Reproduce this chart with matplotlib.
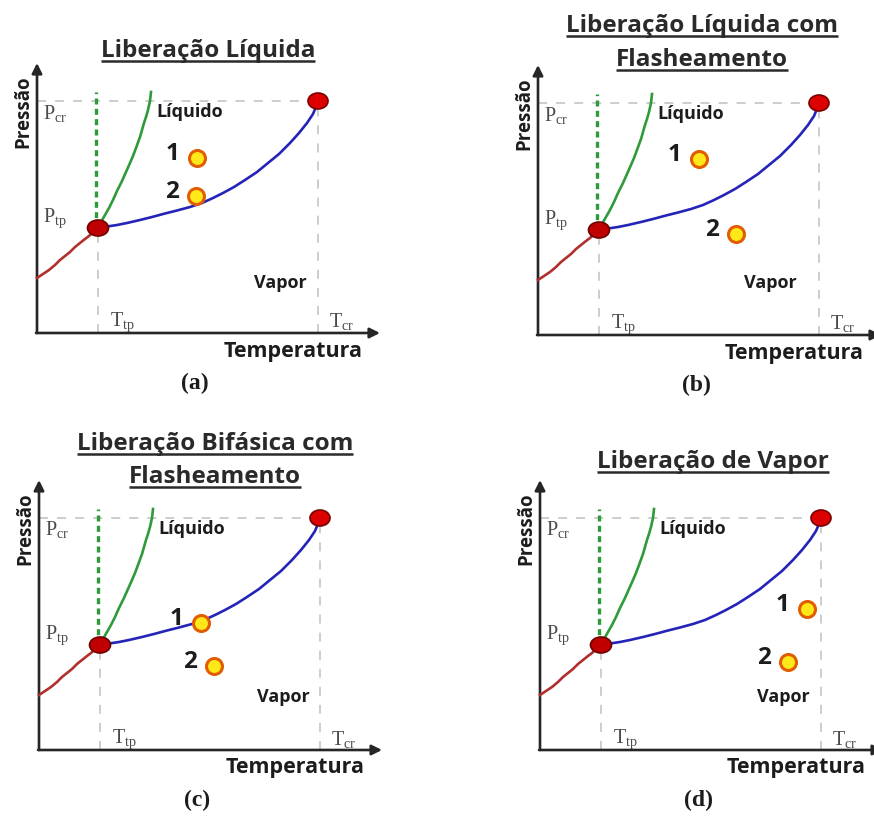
import matplotlib
matplotlib.use('Agg')
import matplotlib.pyplot as plt
from matplotlib.patches import Ellipse

W, H, DPI = 874, 816, 100
plt.rcParams['mathtext.fontset'] = 'custom'
plt.rcParams['mathtext.rm'] = 'Liberation Serif'
plt.rcParams['mathtext.it'] = 'Liberation Serif'

# ---- schematic phase diagram (arbitrary units) ----
blue_T = [63, 70, 80, 90, 103, 115, 128, 140, 153, 165, 176, 186, 197, 208, 220, 231, 242, 253, 262, 270, 276, 281]
blue_P = [106, 106.5, 108, 110, 113, 116, 119.5, 122.5, 126, 130, 135, 140, 146, 153, 161, 170, 179, 190, 200, 210, 219, 231]
green_T = [60, 64, 68, 72, 76, 80, 85, 89, 93, 96, 99, 103, 105, 107, 109, 111, 113, 114]
green_P = [105, 111, 118, 125, 133, 142, 152, 161, 170, 177, 185, 196, 203, 210, 216, 223, 232, 241]
red_T = [0, 6, 12, 18, 23, 28, 33, 38, 43, 48, 52, 56, 60]
red_P = [55, 59, 63, 68, 73, 77, 81, 86, 90, 94, 97, 101, 105]
melt_dash_T = [59, 59]
melt_dash_P = [105, 241]
triple_T, triple_P = 61, 105
crit_T, crit_P = 281, 232
T_max, P_max = 343, 270

panel_tags = ['(a)', '(b)', '(c)', '(d)']
panel_titles = [['Liberação Líquida'],
                ['Liberação Líquida com', 'Flasheamento'],
                ['Liberação Bifásica com', 'Flasheamento'],
                ['Liberação de Vapor']]
point1_T = [160, 161, 162, 267]
point1_P = [175, 176, 127, 141]
point2_T = [159, 198, 175, 248]
point2_P = [137, 101, 84, 88]
vapor_T = [243, 232, 244, 243]
vapor_P = [50, 52, 53, 53]

# layout (pixel origins of each panel, title placement)
origins = [(37, 333), (538, 335), (39, 750), (540, 750)]
title_x = [171, 164, 176, 173]
title_base = [[276], [303, 269], [300, 267], [282]]

XMIN, XMAX, YMIN, YMAX = -40, 400, -72, 328

fig = plt.figure(figsize=(W / DPI, H / DPI), dpi=DPI)
fig.patch.set_facecolor('white')

BOLD = dict(family=['Open Sans', 'DejaVu Sans'], fontweight='bold')
SERIF = dict(family=['Liberation Serif', 'DejaVu Serif'])
axis_col = '#262626'
grid_col = '#c9c9c9'
txt_col = '#1c1c1c'

title_texts = []
for i in range(4):
    ox, oy = origins[i]
    left = (ox + XMIN) / W
    bottom = 1 - (oy - YMIN) / H
    ax = fig.add_axes([left, bottom, (XMAX - XMIN) / W, (YMAX - YMIN) / H])
    ax.set_xlim(XMIN, XMAX)
    ax.set_ylim(YMIN, YMAX)
    ax.axis('off')

    # reference dashed guides
    ax.plot([0, crit_T], [crit_P, crit_P], color=grid_col, lw=1.3, ls=(0, (5, 5)), zorder=1)
    ax.plot([crit_T, crit_T], [0, crit_P], color=grid_col, lw=1.3, ls=(0, (5, 5)), zorder=1)
    ax.plot([triple_T, triple_T], [0, triple_P], color=grid_col, lw=1.3, ls=(0, (5, 5)), zorder=1)

    # axes with arrows
    ax.annotate('', xy=(0, P_max), xytext=(0, 0),
                arrowprops=dict(arrowstyle='-|>', color=axis_col, lw=1.9,
                                mutation_scale=15, shrinkA=0, shrinkB=0))
    ax.annotate('', xy=(T_max, 0), xytext=(-1, 0),
                arrowprops=dict(arrowstyle='-|>', color=axis_col, lw=1.9,
                                mutation_scale=15, shrinkA=0, shrinkB=0))

    # phase boundaries
    ax.plot(red_T, red_P, color='#b0302e', lw=1.9, zorder=3)
    ax.plot(green_T, green_P, color='#2f9a3a', lw=1.9, zorder=3)
    ax.plot(melt_dash_T, melt_dash_P, color='#2f9a3a', lw=2.4, ls=(0, (1.8, 1.3)), zorder=3)
    ax.plot(blue_T, blue_P, color='#2424b8', lw=1.9, zorder=3)

    ax.add_patch(Ellipse((triple_T, triple_P), 21, 16, facecolor='#c00000',
                         edgecolor='#6e0000', lw=1.2, zorder=5))
    ax.add_patch(Ellipse((crit_T, crit_P), 20, 16, facecolor='#dd0000',
                         edgecolor='#7a0000', lw=1.2, zorder=5))

    # release states
    for k, (pt, pp) in enumerate([(point1_T[i], point1_P[i]), (point2_T[i], point2_P[i])]):
        ax.plot(pt, pp, 'o', ms=11.5, mfc='#ffe81a', mec='#e25d00', mew=2.2, zorder=6)
        ax.text(pt - 24, pp + 4, str(k + 1), ha='center', va='center', fontsize=17.5,
                color=txt_col, **BOLD)

    # labels
    ax.text(153, 221, 'Líquido', ha='center', va='center', fontsize=13, color=txt_col, **BOLD)
    ax.text(vapor_T[i], vapor_P[i], 'Vapor', ha='center', va='center', fontsize=13,
            color=txt_col, **BOLD)
    ax.text(256, -18, 'Temperatura', ha='center', va='center', fontsize=15.5,
            color=txt_col, **BOLD)
    ax.text(-14, 221, 'Pressão', ha='center', va='center', fontsize=13.5, rotation=90,
            color=txt_col, **BOLD)
    ax.text(18, 220, r'P$_{\rm cr}$', ha='center', va='center', fontsize=14.5, color='#4a4a4a', **SERIF)
    ax.text(18, 115, r'P$_{\rm tp}$', ha='center', va='center', fontsize=14.5, color='#4a4a4a', **SERIF)
    ax.text(85, 11, r'T$_{\rm tp}$', ha='center', va='center', fontsize=14.5, color='#4a4a4a', **SERIF)
    ax.text(305, 11, r'T$_{\rm cr}$', ha='center', va='center', fontsize=14.5, color='#4a4a4a', **SERIF)
    ax.text(158, -50, panel_tags[i], ha='center', va='center', fontsize=17,
            fontweight='bold', color=txt_col, family=['Liberation Serif', 'DejaVu Serif'])

    for line, yb in zip(panel_titles[i], title_base[i]):
        t = ax.text(title_x[i], yb, line, ha='center', va='baseline', fontsize=17.5,
                    color='#2a2a2a', **BOLD)
        title_texts.append((ax, t, yb))

# underline titles
fig.canvas.draw()
r = fig.canvas.get_renderer()
for ax, t, yb in title_texts:
    bb = t.get_window_extent(renderer=r)
    inv = ax.transData.inverted()
    x0 = inv.transform((bb.x0, 0))[0]
    x1 = inv.transform((bb.x1, 0))[0]
    ax.plot([x0, x1], [yb - 4, yb - 4], color='#2a2a2a', lw=1.8, solid_capstyle='butt')

fig.savefig('out.png', dpi=DPI, facecolor='white')
